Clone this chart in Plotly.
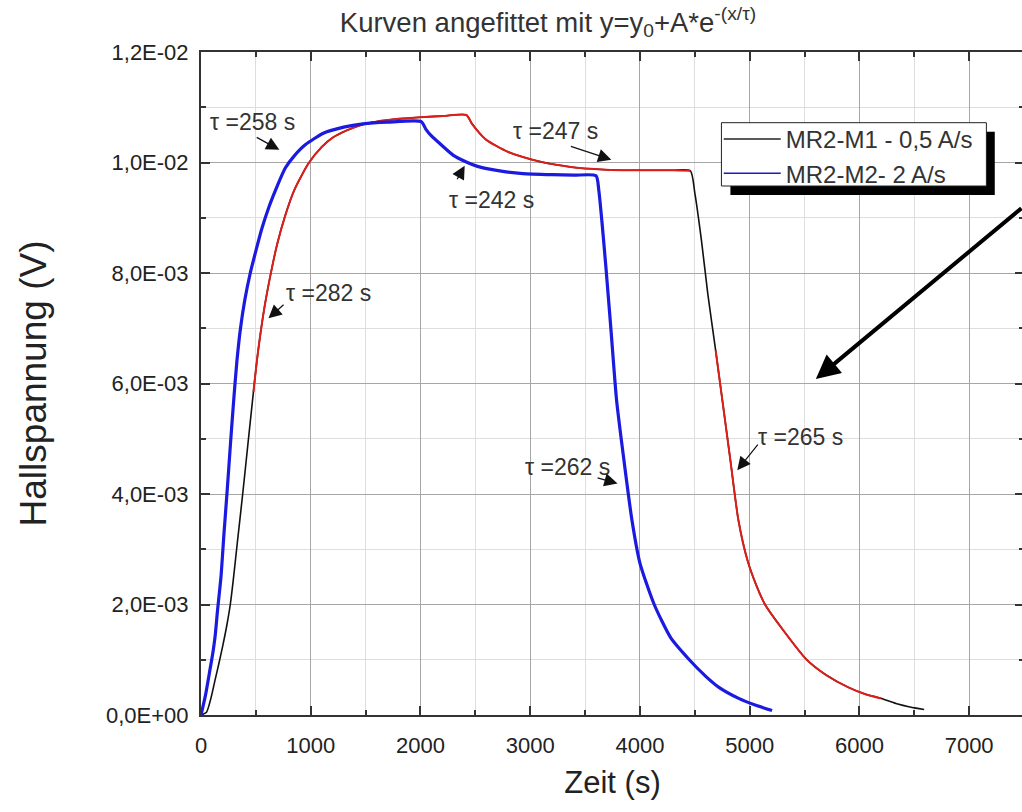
import plotly.graph_objects as go

# ---------------- data ----------------
# MR2-M1 - 0,5 A/s : measured (black)
m1_x = [0, 50, 90, 130, 165, 200, 235, 267, 294, 330, 380, 430, 478, 518, 580, 645, 694, 766, 850,
        978, 1100, 1200, 1327, 1460, 1600, 1800, 2000, 2200, 2418, 2470, 2539, 2600, 2691, 2800,
        2933, 3080, 3236, 3450, 3691, 3900, 4150, 4300, 4460, 4500, 4560, 4620, 4690, 4751, 4825,
        4897, 4980, 5060, 5140, 5300, 5520, 5700, 5900, 6050, 6200, 6350, 6450, 6530, 6590]
m1_y = [0.0, 0.05e-3, 0.30e-3, 0.65e-3, 0.95e-3, 1.27e-3, 1.62e-3, 2.00e-3, 2.44e-3, 3.10e-3, 4.00e-3,
        4.95e-3, 5.85e-3, 6.55e-3, 7.40e-3, 8.08e-3, 8.52e-3, 9.03e-3, 9.50e-3, 9.98e-3, 10.28e-3,
        10.45e-3, 10.58e-3, 10.68e-3, 10.74e-3, 10.79e-3, 10.82e-3, 10.84e-3, 10.86e-3, 10.70e-3,
        10.53e-3, 10.41e-3, 10.30e-3, 10.19e-3, 10.10e-3, 10.02e-3, 9.96e-3, 9.90e-3, 9.87e-3,
        9.86e-3, 9.86e-3, 9.86e-3, 9.85e-3, 9.45e-3, 8.60e-3, 7.60e-3, 6.60e-3, 5.70e-3, 4.60e-3,
        3.53e-3, 2.80e-3, 2.35e-3, 2.00e-3, 1.55e-3, 1.00e-3, 0.72e-3, 0.50e-3, 0.38e-3, 0.30e-3,
        0.20e-3, 0.15e-3, 0.12e-3, 0.10e-3]

# exponential fits drawn over MR2-M1 (red)
fit1_x = [478, 518, 580, 645, 694, 766, 850, 978, 1100, 1200, 1327, 1460, 1600, 1800, 2000, 2200,
          2418, 2470, 2539, 2600, 2691, 2800, 2933, 3080, 3236, 3450, 3691, 3900, 4150, 4300, 4460]
fit1_y = [5.85e-3, 6.55e-3, 7.40e-3, 8.08e-3, 8.52e-3, 9.03e-3, 9.50e-3, 9.98e-3, 10.28e-3, 10.45e-3,
          10.58e-3, 10.68e-3, 10.74e-3, 10.79e-3, 10.82e-3, 10.84e-3, 10.86e-3, 10.70e-3, 10.53e-3,
          10.41e-3, 10.30e-3, 10.19e-3, 10.10e-3, 10.02e-3, 9.96e-3, 9.90e-3, 9.87e-3, 9.86e-3,
          9.86e-3, 9.86e-3, 9.85e-3]
fit2_x = [4690, 4751, 4825, 4897, 4980, 5060, 5140, 5300, 5520, 5700, 5900, 6050, 6196]
fit2_y = [6.60e-3, 5.70e-3, 4.60e-3, 3.53e-3, 2.80e-3, 2.35e-3, 2.00e-3, 1.55e-3, 1.00e-3, 0.72e-3,
          0.50e-3, 0.38e-3, 0.30e-3]

# MR2-M2 - 2 A/s : measured + fit (blue)
m2_x = [0, 40, 80, 110, 130, 151, 182, 210, 240, 270, 300, 327, 360, 400, 449, 500, 554, 620, 700,
        768, 850, 950, 1115, 1300, 1476, 1700, 2007, 2050, 2100, 2206, 2300, 2418, 2520, 2630, 2780,
        2933, 3200, 3400, 3600, 3625, 3655, 3690, 3735, 3787, 3855, 3927, 4000, 4130, 4280, 4450,
        4600, 4720, 4900, 5050, 5204]
m2_y = [0.0, 0.35e-3, 0.80e-3, 1.15e-3, 1.45e-3, 1.90e-3, 2.50e-3, 3.30e-3, 4.10e-3, 4.95e-3,
        5.75e-3, 6.40e-3, 7.00e-3, 7.52e-3, 8.00e-3, 8.40e-3, 8.80e-3, 9.20e-3, 9.60e-3, 9.90e-3,
        10.12e-3, 10.32e-3, 10.53e-3, 10.64e-3, 10.70e-3, 10.73e-3, 10.74e-3, 10.60e-3, 10.48e-3,
        10.29e-3, 10.13e-3, 10.01e-3, 9.93e-3, 9.88e-3, 9.83e-3, 9.80e-3, 9.78e-3, 9.77e-3, 9.76e-3,
        9.50e-3, 8.90e-3, 8.10e-3, 7.00e-3, 5.70e-3, 4.60e-3, 3.53e-3, 2.75e-3, 2.00e-3, 1.40e-3,
        1.00e-3, 0.70e-3, 0.50e-3, 0.30e-3, 0.18e-3, 0.08e-3]

series_names = ["MR2-M1 - 0,5 A/s", "MR2-M2- 2 A/s"]

x_ticks = [0, 1000, 2000, 3000, 4000, 5000, 6000, 7000]
x_ticktext = ["0", "1000", "2000", "3000", "4000", "5000", "6000", "7000"]
y_ticks = [0.0, 0.002, 0.004, 0.006, 0.008, 0.010, 0.012]
y_ticktext = ["0,0E+00", "2,0E-03", "4,0E-03", "6,0E-03", "8,0E-03", "1,0E-02", "1,2E-02"]

# tau labels: (text, text x, text y, arrow head x, head y, arrow tail x, tail y)
tau_labels = [
    ("τ =258 s", 466, 10.73e-3, 714, 10.23e-3, 494, 10.47e-3),
    ("τ =247 s", 3230, 10.57e-3, 3739, 10.05e-3, 3357, 10.30e-3),
    ("τ =242 s", 2648, 9.32e-3, 2403, 9.94e-3, 2327, 9.67e-3),
    ("τ =282 s", 1166, 7.64e-3, 615, 7.18e-3, 766, 7.45e-3),
    ("τ =262 s", 3339, 4.49e-3, 3796, 4.19e-3, 3600, 4.30e-3),
    ("τ =265 s", 5466, 5.03e-3, 4887, 4.43e-3, 5085, 4.92e-3),
]

FONT = "Liberation Sans, Arial, sans-serif"

# figure is a bit wider than the 1022 px window: the right frame lies just outside, as in the source
FIG_W, FIG_H = 1026, 812
L, T, B, R = 201, 52, 715, 1026
W_PLOT, H_PLOT = R - L, B - T

fig = go.Figure()

spl = dict(shape="spline", smoothing=0.6)
fig.add_trace(go.Scatter(x=m1_x, y=m1_y, mode="lines", showlegend=False,
                         line=dict(color="#111111", width=1.6, **spl)))
fig.add_trace(go.Scatter(x=fit1_x, y=fit1_y, mode="lines", showlegend=False,
                         line=dict(color="#dc1f1a", width=2, **spl)))
fig.add_trace(go.Scatter(x=fit2_x, y=fit2_y, mode="lines", showlegend=False,
                         line=dict(color="#dc1f1a", width=2, **spl)))
fig.add_trace(go.Scatter(x=m2_x, y=m2_y, mode="lines", showlegend=False,
                         line=dict(color="#1a1ae0", width=3.2, **spl)))
# legend entries
fig.add_trace(go.Scatter(x=[None], y=[None], mode="lines", name=series_names[0],
                         line=dict(color="#222222", width=1.5)))
fig.add_trace(go.Scatter(x=[None], y=[None], mode="lines", name=series_names[1],
                         line=dict(color="#1a1ac8", width=1.5)))

annotations = []
for txt, tx, ty, hx, hy, sx, sy in tau_labels:
    annotations.append(dict(x=tx, y=ty, xref="x", yref="y", text=txt, showarrow=False,
                            font=dict(family=FONT, size=23, color="#333333")))
    annotations.append(dict(x=hx, y=hy, xref="x", yref="y", ax=sx, ay=sy, axref="x", ayref="y",
                            text="", showarrow=True, arrowhead=2, arrowsize=2.2, arrowwidth=1.2,
                            arrowcolor="#111111"))
# big arrow coming in from the right edge
annotations.append(dict(x=5603, y=6.08e-3, xref="x", yref="y", ax=207, ay=-172,
                        text="", showarrow=True, arrowhead=2, arrowsize=1.2, arrowwidth=4,
                        arrowcolor="#000000"))


def px2paper_x(px):
    return (px - L) / W_PLOT


def px2paper_y(py):
    return (B - py) / H_PLOT


shapes = [
    dict(type="rect", xref="paper", yref="paper",
         x0=px2paper_x(731.7), x1=px2paper_x(996.7), y0=px2paper_y(195), y1=px2paper_y(131.7),
         fillcolor="#000000", line=dict(width=0), layer="above"),
    dict(type="rect", xref="paper", yref="paper",
         x0=px2paper_x(722.7), x1=px2paper_x(988.3), y0=px2paper_y(186), y1=px2paper_y(122.7),
         fillcolor="#ffffff", line=dict(color="#222222", width=1), layer="above"),
]

axis_common = dict(
    showline=True, linecolor="#333333", linewidth=2, mirror="ticks",
    ticks="inside", ticklen=9, tickwidth=1.5, tickcolor="#333333",
    showgrid=True, gridcolor="#a6a6a6", gridwidth=1, zeroline=False,
    tickfont=dict(family=FONT, size=22, color="#222222"),
)

fig.update_layout(
    width=FIG_W, height=FIG_H,
    margin=dict(l=L, r=FIG_W - R, t=T, b=FIG_H - B),
    paper_bgcolor="white", plot_bgcolor="white",
    title=dict(text="Kurven angefittet mit y=y<sub>0</sub>+A*e<sup>-(x/τ)</sup>",
               x=548 / FIG_W, xanchor="center", y=1 - 22 / FIG_H, yanchor="middle", xref="container",
               yref="container", font=dict(family=FONT, size=27.5, color="#333333")),
    xaxis=dict(range=[0, W_PLOT / 0.11], tickvals=x_ticks, ticktext=x_ticktext,
               ticklabelstandoff=10,
               title=dict(text="Zeit (s)", standoff=14, font=dict(family=FONT, size=31, color="#222222")),
               minor=dict(dtick=500, tick0=0, ticks="inside", ticklen=5, tickcolor="#333333",
                          showgrid=True, gridcolor="#dedede", gridwidth=1),
               **axis_common),
    yaxis=dict(range=[0, 0.012], tickvals=y_ticks, ticktext=y_ticktext,
               ticklabelstandoff=6,
               title=dict(text="Hallspannung (V)", standoff=48, font=dict(family=FONT, size=37, color="#222222")),
               minor=dict(dtick=0.001, tick0=0, ticks="inside", ticklen=5, tickcolor="#333333",
                          showgrid=True, gridcolor="#dedede", gridwidth=1),
               **axis_common),
    legend=dict(x=px2paper_x(720), y=px2paper_y(117), xanchor="left", yanchor="top",
                bgcolor="rgba(0,0,0,0)", borderwidth=0, itemwidth=57,
                font=dict(family=FONT, size=24, color="#333333"), tracegroupgap=0),
    annotations=annotations,
    shapes=shapes,
)

fig.write_html(
    "out.html",
    config={"displayModeBar": False},
    post_script="document.body.style.margin='0';document.body.style.overflow='hidden';",
)
